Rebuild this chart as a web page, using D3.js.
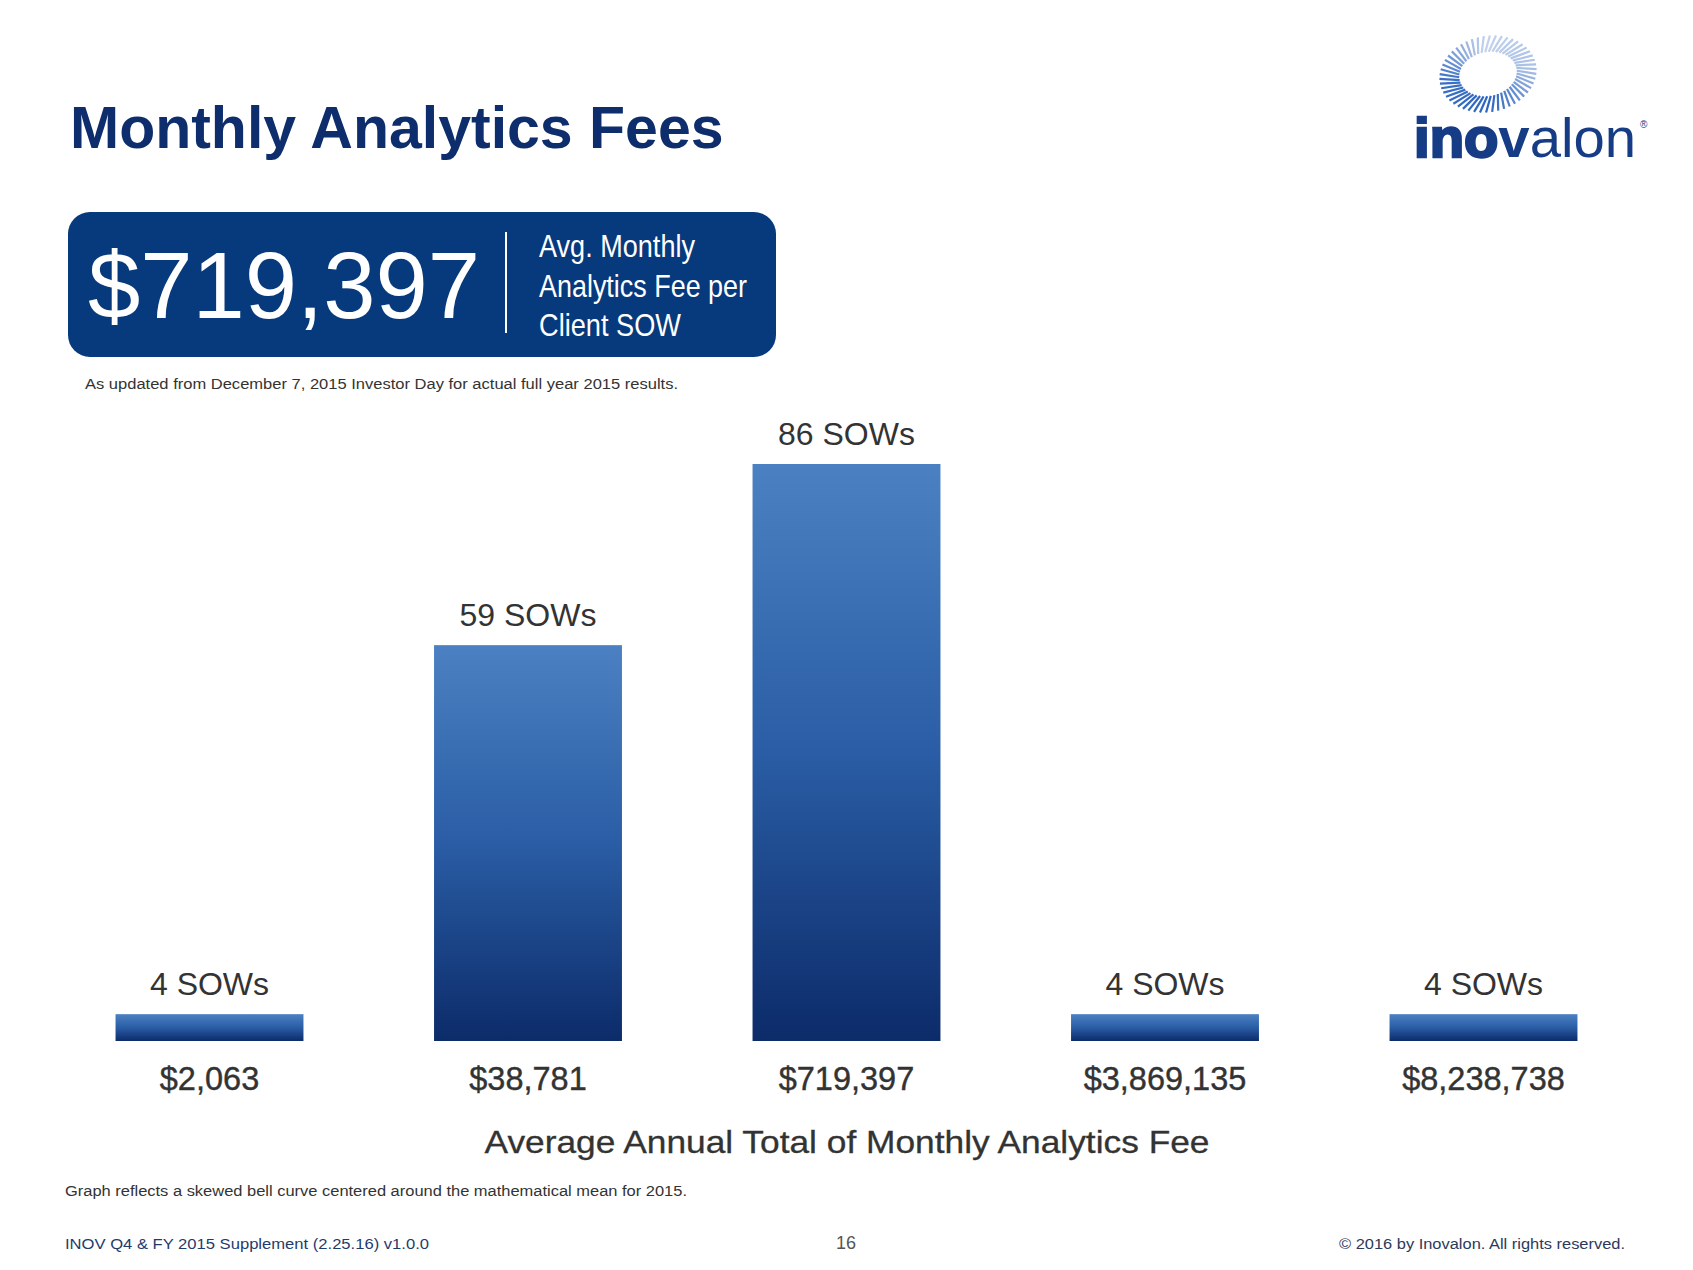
<!DOCTYPE html>
<html>
<head>
<meta charset="utf-8">
<script src="https://cdn.jsdelivr.net/npm/d3@7"></script>
<style>
  body { margin: 0; background: #fff; }
  svg { display: block; font-family: "Liberation Sans", Arial, sans-serif; }
</style>
</head>
<body>
<script>
// chart data
var feeLabels = ["$2,063", "$38,781", "$719,397", "$3,869,135", "$8,238,738"];
var sowCounts = [4, 59, 86, 4, 4];
var sowLabels = ["4 SOWs", "59 SOWs", "86 SOWs", "4 SOWs", "4 SOWs"];

var width = 1693, height = 1270;

var svg = d3.select("body").append("svg")
  .attr("width", width)
  .attr("height", height);

var defs = svg.append("defs");
var grad = defs.append("linearGradient")
  .attr("id", "barGrad")
  .attr("x1", 0).attr("y1", 0).attr("x2", 0).attr("y2", 1);
grad.append("stop").attr("offset", "0%").attr("stop-color", "#4b81c2");
grad.append("stop").attr("offset", "50%").attr("stop-color", "#2a5da5");
grad.append("stop").attr("offset", "100%").attr("stop-color", "#0c2b69");

// title
svg.append("text")
  .attr("x", 70).attr("y", 148)
  .attr("font-size", 59)
  .attr("font-weight", "bold")
  .attr("fill", "#0d2d6c")
  .text("Monthly Analytics Fees");

// headline box
svg.append("rect")
  .attr("x", 68).attr("y", 212)
  .attr("width", 708).attr("height", 145)
  .attr("rx", 22)
  .attr("fill", "#07397d");

svg.append("text")
  .attr("x", 88).attr("y", 318)
  .attr("font-size", 94)
  .attr("fill", "#fff")
  .text("$719,397");

svg.append("line")
  .attr("x1", 506).attr("x2", 506)
  .attr("y1", 232).attr("y2", 333)
  .attr("stroke", "#fff").attr("stroke-width", 2);

var boxLines = ["Avg. Monthly", "Analytics Fee per", "Client SOW"];
var boxLens = [156, 208, 142];
svg.selectAll(".boxline")
  .data(boxLines)
  .enter().append("text")
  .attr("class", "boxline")
  .attr("x", 539)
  .attr("y", function (d, i) { return 257 + i * 39.5; })
  .attr("font-size", 32)
  .attr("fill", "#fff")
  .attr("textLength", function (d, i) { return boxLens[i]; })
  .attr("lengthAdjust", "spacingAndGlyphs")
  .text(function (d) { return d; });

svg.append("text")
  .attr("x", 85).attr("y", 389)
  .attr("font-size", 14)
  .attr("fill", "#333")
  .attr("textLength", 593)
  .attr("lengthAdjust", "spacingAndGlyphs")
  .text("As updated from December 7, 2015 Investor Day for actual full year 2015 results.");

// bars
var x = d3.scaleBand()
  .domain(feeLabels)
  .range([50.25, 1642.75])
  .paddingInner(0.41)
  .paddingOuter(0.205);

var y = d3.scaleLinear()
  .domain([0, 86])
  .range([1041, 464]);

svg.selectAll(".bar")
  .data(sowCounts)
  .enter().append("rect")
  .attr("class", "bar")
  .attr("x", function (d, i) { return x(feeLabels[i]); })
  .attr("y", function (d) { return y(d); })
  .attr("width", x.bandwidth())
  .attr("height", function (d) { return y(0) - y(d); })
  .attr("fill", "url(#barGrad)");

svg.selectAll(".sow")
  .data(sowCounts)
  .enter().append("text")
  .attr("class", "sow")
  .attr("x", function (d, i) { return x(feeLabels[i]) + x.bandwidth() / 2; })
  .attr("y", function (d) { return y(d) - 19; })
  .attr("text-anchor", "middle")
  .attr("font-size", 32)
  .attr("fill", "#333")
  .text(function (d, i) { return sowLabels[i]; });

svg.selectAll(".fee")
  .data(feeLabels)
  .enter().append("text")
  .attr("class", "fee")
  .attr("x", function (d) { return x(d) + x.bandwidth() / 2; })
  .attr("y", 1090)
  .attr("text-anchor", "middle")
  .attr("font-size", 32.5)
  .attr("fill", "#333")
  .attr("stroke", "#333").attr("stroke-width", 0.4)
  .text(function (d) { return d; });

svg.append("text")
  .attr("x", 847).attr("y", 1153)
  .attr("text-anchor", "middle")
  .attr("font-size", 32)
  .attr("fill", "#333")
  .attr("stroke", "#333").attr("stroke-width", 0.3)
  .attr("textLength", 725)
  .attr("lengthAdjust", "spacingAndGlyphs")
  .text("Average Annual Total of Monthly Analytics Fee");

svg.append("text")
  .attr("x", 65).attr("y", 1196)
  .attr("font-size", 14)
  .attr("fill", "#333")
  .attr("textLength", 622)
  .attr("lengthAdjust", "spacingAndGlyphs")
  .text("Graph reflects a skewed bell curve centered around the mathematical mean for 2015.");

// footer
svg.append("text")
  .attr("x", 65).attr("y", 1249)
  .attr("font-size", 15)
  .attr("fill", "#1f3b6e")
  .attr("textLength", 364)
  .attr("lengthAdjust", "spacingAndGlyphs")
  .text("INOV Q4 & FY 2015 Supplement (2.25.16) v1.0.0");

svg.append("text")
  .attr("x", 846).attr("y", 1249)
  .attr("text-anchor", "middle")
  .attr("font-size", 18)
  .attr("fill", "#555")
  .text("16");

svg.append("text")
  .attr("x", 1625).attr("y", 1249)
  .attr("text-anchor", "end")
  .attr("font-size", 14)
  .attr("fill", "#2b3a5c")
  .attr("textLength", 286)
  .attr("lengthAdjust", "spacingAndGlyphs")
  .text("\u00a9 2016 by Inovalon. All rights reserved.");

// logo
var logo = svg.append("g").attr("transform", "translate(1488,74) rotate(-12)");
var rayColor = d3.scaleLinear()
  .domain([0, 0.25, 0.5, 0.75, 1])
  .range(["#a9c0e6", "#2f66bf", "#3a70c4", "#c3d3ee", "#a9c0e6"]);
var nRays = 50;
var rays = d3.range(nRays);
logo.selectAll("line")
  .data(rays)
  .enter().append("line")
  .attr("x1", function (d) { return 29 * Math.cos(d / nRays * 2 * Math.PI); })
  .attr("y1", function (d) { return 22 * Math.sin(d / nRays * 2 * Math.PI); })
  .attr("x2", function (d) { return 49 * Math.cos(d / nRays * 2 * Math.PI + 0.14); })
  .attr("y2", function (d) { return 38 * Math.sin(d / nRays * 2 * Math.PI + 0.14); })
  .attr("stroke", function (d) { return rayColor(d / nRays); })
  .attr("stroke-width", 2.2);

var logoText = svg.append("text")
  .attr("x", 1414).attr("y", 157)
  .attr("font-size", 56)
  .attr("fill", "#173c86")
  .attr("textLength", 222)
  .attr("lengthAdjust", "spacingAndGlyphs");
logoText.append("tspan").attr("font-weight", "bold").attr("stroke", "#173c86").attr("stroke-width", 2.5).text("ino");
logoText.append("tspan").attr("font-weight", "bold").text("v");
logoText.append("tspan").text("alon");

svg.append("text")
  .attr("x", 1640).attr("y", 128)
  .attr("font-size", 10)
  .attr("fill", "#173c86")
  .text("\u00ae");
</script>
</body>
</html>
